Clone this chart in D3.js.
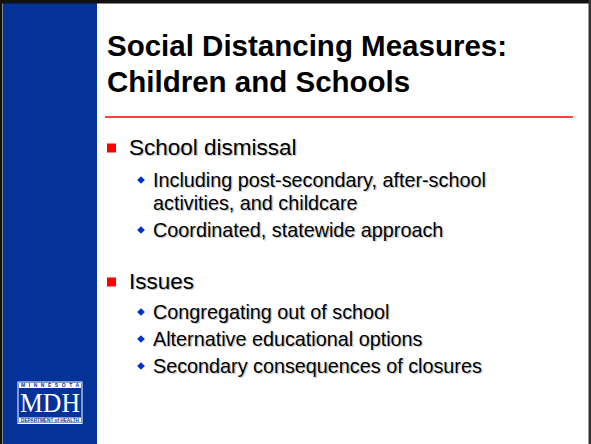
<!DOCTYPE html>
<html>
<head>
<meta charset="utf-8">
<script src="https://cdn.jsdelivr.net/npm/d3@7"></script>
<style>
  body { margin: 0; background: #fff; }
  text { font-family: "Liberation Sans", Arial, sans-serif; }
</style>
</head>
<body>
<div id="slide"></div>
<script>
// slide content
const titleLines = ["Social Distancing Measures:", "Children and Schools"];
const bulletLevels = [1, 2, 2, 1, 2, 2, 2];
const bulletLines = [
    ["School dismissal"],
    ["Including post-secondary, after-school", "activities, and childcare"],
    ["Coordinated, statewide approach"],
    ["Issues"],
    ["Congregating out of school"],
    ["Alternative educational options"],
    ["Secondary consequences of closures"]
];
const bulletBaselines = [155, 187, 237, 289, 319, 346, 373];
const logoTop = "MINNESOTA";
const logoMain = "MDH";
const logoBottom = "DEPARTMENT of HEALTH";

const width = 591, height = 444;

const svg = d3.select("#slide")
    .append("svg")
    .attr("width", width)
    .attr("height", height)
    .attr("viewBox", [0, 0, width, height]);

// frame and left panel
svg.append("rect").attr("x", 0).attr("y", 0).attr("width", width).attr("height", height).attr("fill", "#fff");
svg.append("rect").attr("x", 3).attr("y", 3).attr("width", 94).attr("height", height).attr("fill", "#033399");
svg.append("rect").attr("x", 0).attr("y", 0).attr("width", width).attr("height", 3.5).attr("fill", "#111");
svg.append("rect").attr("x", 0).attr("y", 0).attr("width", 2.5).attr("height", height).attr("fill", "#111");
svg.append("rect").attr("x", 588.5).attr("y", 0).attr("width", 2.5).attr("height", height).attr("fill", "#333");

// title
svg.selectAll(".title")
    .data(titleLines)
    .join("text")
    .attr("class", "title")
    .attr("x", 107)
    .attr("y", (d, i) => 56 + i * 36)
    .attr("font-size", 29.5)
    .attr("font-weight", "bold")
    .attr("fill", "#000")
    .text(d => d);

svg.append("line")
    .attr("x1", 105).attr("x2", 573)
    .attr("y1", 117).attr("y2", 117)
    .attr("stroke", "#ff0000")
    .attr("stroke-width", 1.6);

// bullets
const items = bulletLines.map((lines, i) => ({ lines, level: bulletLevels[i], y: bulletBaselines[i] }));

const g = svg.append("g");
items.forEach(d => {
    const top = d.level === 1;
    const size = top ? 22.5 : 19.8;
    const tx = top ? 129 : 153;
    const lh = 23;
    if (top) {
        g.append("rect")
            .attr("x", 107).attr("y", d.y - 11.5)
            .attr("width", 9).attr("height", 9)
            .attr("fill", "#ff0000");
    } else {
        g.append("path")
            .attr("d", d3.symbol(d3.symbolDiamond2, 38)())
            .attr("transform", `translate(141,${d.y - 7})`)
            .attr("fill", "#0033cc");
    }
    d.lines.forEach((line, j) => {
        // soft shadow
        g.append("text")
            .attr("x", tx + 1.3).attr("y", d.y + j * lh + 1.3)
            .attr("font-size", size)
            .attr("fill", "#c8c8c8")
            .text(line);
        g.append("text")
            .attr("x", tx).attr("y", d.y + j * lh)
            .attr("font-size", size)
            .attr("fill", "#000")
            .text(line);
    });
});

// MDH logo
const logo = svg.append("g").attr("transform", "translate(19,383)");
logo.append("rect").attr("x", -1).attr("y", -1).attr("width", 64).attr("height", 41.5)
    .attr("fill", "none").attr("stroke", "#fff").attr("stroke-width", 1);
logo.append("rect").attr("x", 0).attr("y", 0).attr("width", 62).attr("height", 5).attr("fill", "#fff");
logo.append("text").attr("x", 31).attr("y", 4.3).attr("text-anchor", "middle")
    .attr("font-size", 5).attr("font-weight", "bold").attr("fill", "#033399")
    .attr("textLength", 58).attr("lengthAdjust", "spacing")
    .text(logoTop);
logo.append("text").attr("x", 31).attr("y", 29).attr("text-anchor", "middle")
    .style("font-family", "'Liberation Serif', 'Times New Roman', serif")
    .attr("font-size", 27).attr("fill", "#fff")
    .attr("textLength", 60).attr("lengthAdjust", "spacingAndGlyphs")
    .text(logoMain);
logo.append("rect").attr("x", 0).attr("y", 34.5).attr("width", 62).attr("height", 5).attr("fill", "#fff");
logo.append("text").attr("x", 31).attr("y", 38.8).attr("text-anchor", "middle")
    .attr("font-size", 4.5).attr("font-weight", "bold").attr("fill", "#033399")
    .attr("textLength", 58).attr("lengthAdjust", "spacingAndGlyphs")
    .text(logoBottom);
</script>
</body>
</html>
